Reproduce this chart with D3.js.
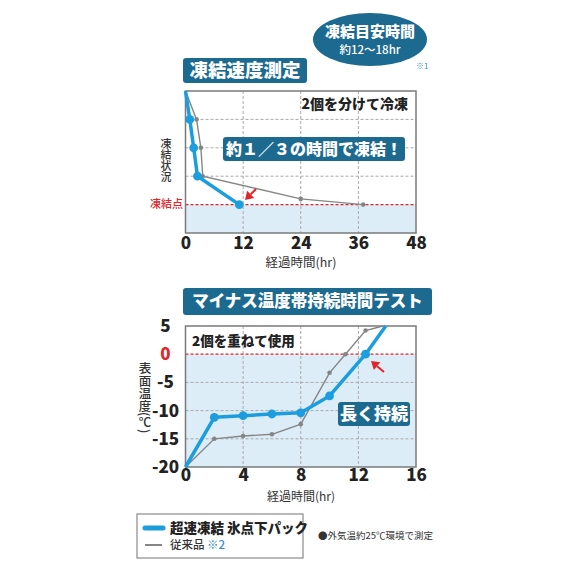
<!DOCTYPE html>
<html>
<head>
<meta charset="utf-8">
<script src="https://cdn.jsdelivr.net/npm/d3@7/dist/d3.min.js"></script>
<style>
  html, body { margin: 0; padding: 0; background: #fff; }
  svg { display: block; }
  text { font-family: "Noto Sans CJK JP", "Noto Sans", sans-serif; }
</style>
</head>
<body>
<svg id="chart" width="570" height="570"></svg>
<script>
// ---- Freeze speed test (hours vs freeze state level) ----
const freezeTicksX = [0, 12, 24, 36, 48];
const freezeLevels = [1, 2, 3, 4];          // horizontal grid levels, level 1 = freezing point
const freezeNewHours = [0, 0.9, 1.7, 2.5, 11.2];
const freezeNewLevels = [5, 4, 3, 2, 1];
const freezeOldHours = [0, 2.3, 3.2, 3.6, 24, 37];
const freezeOldLevels = [5, 4, 3, 2, 1.2, 1];

// ---- Sub-zero duration test (hours vs surface temperature) ----
const durTicksX = [0, 4, 8, 12, 16];
const durTicksY = [5, 0, -5, -10, -15, -20];
const durNewHours = [0, 2, 4, 6, 8, 10, 12.5, 13.9];
const durNewTemps = [-20, -11.2, -10.9, -10.6, -10.4, -7.4, 0, 5];
const durOldHours = [0, 2, 4, 6, 8, 10, 11.1, 12.5, 13.7];
const durOldTemps = [-20, -15, -14.5, -14.2, -12.4, -3.3, 0, 4.2, 5];

const BLUE = "#1c9ddd";
const DARK = "#1d6a91";
const GRAY = "#858585";
const RED = "#e0252b";
const FILL = "#dcedf8";

const svg = d3.select("#chart");

function banner(x, y, w, h, label, size) {
  svg.append("rect").attr("x", x).attr("y", y).attr("width", w).attr("height", h)
    .attr("rx", 3).attr("fill", DARK);
  svg.append("text").attr("x", x + w / 2).attr("y", y + h / 2 + size * 0.36)
    .attr("text-anchor", "middle").attr("fill", "#fff")
    .attr("font-size", size).attr("font-weight", 900).text(label);
}

function verticalLabel(x, y, label, size) {
  svg.append("text").attr("x", x).attr("y", y)
    .style("writing-mode", "vertical-rl")
    .attr("font-size", size).attr("font-weight", 500).attr("fill", "#333")
    .text(label);
}

function arrow(x1, y1, x2, y2) {
  const ang = Math.atan2(y2 - y1, x2 - x1);
  const hl = 8, hw = 5;
  const ex = x2 - hl * Math.cos(ang), ey = y2 - hl * Math.sin(ang);
  svg.append("line").attr("x1", x1).attr("y1", y1).attr("x2", ex).attr("y2", ey)
    .attr("stroke", RED).attr("stroke-width", 2);
  const px = -Math.sin(ang) * hw, py = Math.cos(ang) * hw;
  svg.append("path")
    .attr("d", `M${x2},${y2}L${ex + px},${ey + py}L${ex - px},${ey - py}Z`)
    .attr("fill", RED);
}

function styleTicks(g) {
  g.select(".domain").remove();
  g.selectAll("text").attr("font-size", 17).attr("font-weight", 900).attr("fill", "#222")
    .attr("font-family", "'Noto Sans', sans-serif");
}

// ================= Top chart =================
const t = { left: 185.5, right: 416, top: 91, bottom: 233 };
const tx = d3.scaleLinear().domain([0, 48]).range([t.left, t.right]);
const ty = d3.scaleLinear().domain([0, 5]).range([t.bottom, t.top]);

// frozen zone
svg.append("rect").attr("x", t.left).attr("y", ty(1))
  .attr("width", t.right - t.left).attr("height", ty(0) - ty(1)).attr("fill", FILL);

// grid
svg.append("g").selectAll("line").data(freezeTicksX.slice(1, -1)).join("line")
  .attr("x1", d => tx(d)).attr("x2", d => tx(d)).attr("y1", t.top).attr("y2", t.bottom)
  .attr("stroke", "#a9a9a9").attr("stroke-dasharray", "3,2");
svg.append("g").selectAll("line").data(freezeLevels.slice(1)).join("line")
  .attr("x1", t.left).attr("x2", t.right).attr("y1", d => ty(d)).attr("y2", d => ty(d))
  .attr("stroke", "#a9a9a9").attr("stroke-dasharray", "3,2");
svg.append("line").attr("x1", t.left).attr("x2", t.right).attr("y1", ty(1)).attr("y2", ty(1))
  .attr("stroke", RED).attr("stroke-width", 1.2).attr("stroke-dasharray", "3,2");

svg.append("rect").attr("x", t.left).attr("y", t.top)
  .attr("width", t.right - t.left).attr("height", t.bottom - t.top)
  .attr("fill", "none").attr("stroke", "#7a7a7a").attr("stroke-width", 1.5);

// x axis
svg.append("g").attr("transform", `translate(0,${t.bottom})`)
  .call(d3.axisBottom(tx).tickValues(freezeTicksX).tickSize(0).tickPadding(4))
  .call(styleTicks);
svg.append("text").attr("x", 301).attr("y", 267).attr("text-anchor", "middle")
  .attr("font-size", 12.5).attr("fill", "#333").text("経過時間(hr)");

verticalLabel(166, 138, "凍結状況", 11);
svg.append("text").attr("x", 183).attr("y", 208).attr("text-anchor", "end")
  .attr("font-size", 11).attr("fill", RED).attr("font-weight", 500).text("凍結点");

// series
const tOld = freezeOldHours.map((h, i) => [h, freezeOldLevels[i]]);
const tNew = freezeNewHours.map((h, i) => [h, freezeNewLevels[i]]);
const tLine = d3.line().x(d => tx(d[0])).y(d => ty(d[1]));
svg.append("path").datum(tOld).attr("d", tLine).attr("fill", "none")
  .attr("stroke", GRAY).attr("stroke-width", 1.4);
svg.append("g").selectAll("circle").data(tOld.slice(1)).join("circle")
  .attr("cx", d => tx(d[0])).attr("cy", d => ty(d[1])).attr("r", 2.3).attr("fill", GRAY);
svg.append("path").datum(tNew).attr("d", tLine).attr("fill", "none")
  .attr("stroke", BLUE).attr("stroke-width", 3.5).attr("stroke-linejoin", "round");
svg.append("g").selectAll("circle").data(tNew.slice(1)).join("circle")
  .attr("cx", d => tx(d[0])).attr("cy", d => ty(d[1])).attr("r", 4.4).attr("fill", BLUE);

arrow(256, 189, 245, 200);

svg.append("text").attr("x", 408).attr("y", 109).attr("text-anchor", "end")
  .attr("font-size", 14).attr("font-weight", 900).attr("fill", "#222").text("2個を分けて冷凍");
banner(223, 137, 182, 24, "約１／３の時間で凍結！", 16);

// header
banner(183, 58, 124, 25, "凍結速度測定", 18.5);
svg.append("ellipse").attr("cx", 370).attr("cy", 39.5).attr("rx", 57).attr("ry", 26.5).attr("fill", DARK);
svg.append("text").attr("x", 370).attr("y", 36.5).attr("text-anchor", "middle")
  .attr("font-size", 15).attr("font-weight", 900).attr("fill", "#fff").text("凍結目安時間");
svg.append("text").attr("x", 370).attr("y", 54).attr("text-anchor", "middle")
  .attr("font-size", 11.5).attr("font-weight", 500).attr("fill", "#fff").text("約12〜18hr");
svg.append("text").attr("x", 416).attr("y", 69)
  .attr("font-size", 8).attr("fill", "#3b8fbf").text("※1");

// ================= Bottom chart =================
const b = { left: 185.5, right: 416, top: 326, bottom: 467 };
const bx = d3.scaleLinear().domain([0, 16]).range([b.left, b.right]);
const by = d3.scaleLinear().domain([-20, 5]).range([b.bottom, b.top]);

svg.append("rect").attr("x", b.left).attr("y", by(0))
  .attr("width", b.right - b.left).attr("height", by(-20) - by(0)).attr("fill", FILL);

svg.append("g").selectAll("line").data(durTicksX.slice(1, -1)).join("line")
  .attr("x1", d => bx(d)).attr("x2", d => bx(d)).attr("y1", b.top).attr("y2", b.bottom)
  .attr("stroke", "#a9a9a9").attr("stroke-dasharray", "3,2");
svg.append("g").selectAll("line").data(durTicksY.filter(d => d < 0 && d > -20)).join("line")
  .attr("x1", b.left).attr("x2", b.right).attr("y1", d => by(d)).attr("y2", d => by(d))
  .attr("stroke", "#a9a9a9").attr("stroke-dasharray", "3,2");
svg.append("line").attr("x1", b.left).attr("x2", b.right).attr("y1", by(0)).attr("y2", by(0))
  .attr("stroke", RED).attr("stroke-width", 1.2).attr("stroke-dasharray", "3,2");

svg.append("rect").attr("x", b.left).attr("y", b.top)
  .attr("width", b.right - b.left).attr("height", b.bottom - b.top)
  .attr("fill", "none").attr("stroke", "#7a7a7a").attr("stroke-width", 1.5);

svg.append("g").attr("transform", `translate(0,${b.bottom})`)
  .call(d3.axisBottom(bx).tickValues(durTicksX).tickSize(0).tickPadding(2))
  .call(styleTicks);

// y tick labels are centred in a column left of the plot
svg.append("g").attr("transform", `translate(${b.left},0)`)
  .call(d3.axisLeft(by).tickValues(durTicksY).tickFormat(d => String(d)).tickSize(0).tickPadding(20))
  .call(styleTicks)
  .selectAll("text")
  .attr("text-anchor", "middle")
  .attr("fill", d => d === 0 ? RED : "#222");

svg.append("text").attr("x", 301).attr("y", 500.5).attr("text-anchor", "middle")
  .attr("font-size", 12).attr("fill", "#333").text("経過時間(hr)");
verticalLabel(145, 362, "表面温度(℃)", 12.5);

const bOld = durOldHours.map((h, i) => [h, durOldTemps[i]]);
const bNew = durNewHours.map((h, i) => [h, durNewTemps[i]]);
const bLine = d3.line().x(d => bx(d[0])).y(d => by(d[1]));
svg.append("path").datum(bOld).attr("d", bLine).attr("fill", "none")
  .attr("stroke", GRAY).attr("stroke-width", 1.4);
svg.append("g").selectAll("circle").data(bOld.slice(1, -1)).join("circle")
  .attr("cx", d => bx(d[0])).attr("cy", d => by(d[1])).attr("r", 2.3).attr("fill", GRAY);
svg.append("path").datum(bNew).attr("d", bLine).attr("fill", "none")
  .attr("stroke", BLUE).attr("stroke-width", 3.5).attr("stroke-linejoin", "round");
svg.append("g").selectAll("circle").data(bNew.slice(1, -1)).join("circle")
  .attr("cx", d => bx(d[0])).attr("cy", d => by(d[1])).attr("r", 4.4).attr("fill", BLUE);

arrow(384, 372, 371, 361);

svg.append("text").attr("x", 192).attr("y", 346)
  .attr("font-size", 13.5).attr("font-weight", 900).attr("fill", "#222").text("2個を重ねて使用");
banner(338, 402, 72, 24, "長く持続", 17);
banner(183, 288, 249, 27, "マイナス温度帯持続時間テスト", 16.5);

// ================= Legend =================
svg.append("rect").attr("x", 137).attr("y", 514).attr("width", 166).attr("height", 44)
  .attr("fill", "#fff").attr("stroke", "#8a8a8a").attr("stroke-width", 1.2);
svg.append("line").attr("x1", 145).attr("x2", 163).attr("y1", 528).attr("y2", 528)
  .attr("stroke", BLUE).attr("stroke-width", 5).attr("stroke-linecap", "round");
svg.append("text").attr("x", 170).attr("y", 533)
  .attr("font-size", 13.5).attr("font-weight", 900).attr("fill", "#222").text("超速凍結 氷点下パック");
svg.append("line").attr("x1", 145).attr("x2", 162).attr("y1", 545).attr("y2", 545)
  .attr("stroke", GRAY).attr("stroke-width", 2);
const leg2 = svg.append("text").attr("x", 170).attr("y", 549)
  .attr("font-size", 11.5).attr("font-weight", 500).attr("fill", "#333");
leg2.append("tspan").text("従来品 ");
leg2.append("tspan").attr("fill", "#3b8fbf").text("※2");
svg.append("text").attr("x", 318).attr("y", 539)
  .attr("font-size", 9.5).attr("fill", "#333").text("●外気温約25℃環境で測定");
</script>
</body>
</html>
